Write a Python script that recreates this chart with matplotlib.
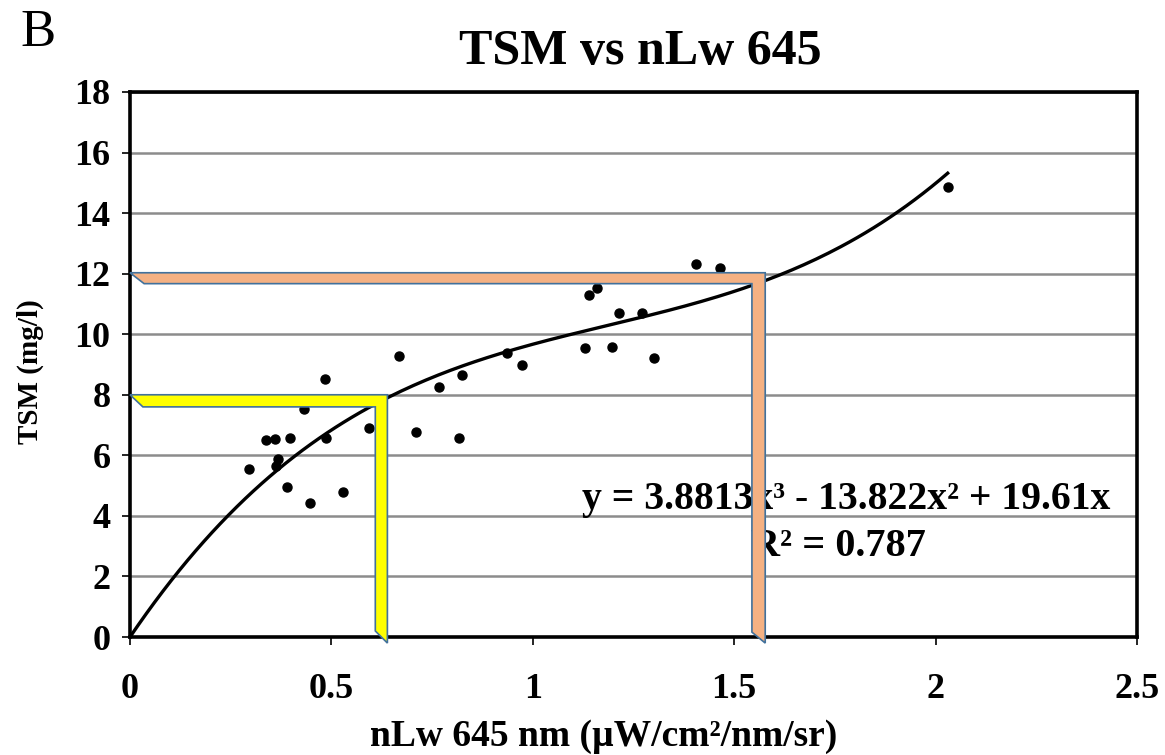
import numpy as np
import matplotlib
matplotlib.use("Agg")
import matplotlib.pyplot as plt
from matplotlib.patches import Polygon

# data
nlw = [0.295, 0.337, 0.359, 0.396, 0.367, 0.363, 0.389, 0.448, 0.431, 0.484,
       0.487, 0.528, 0.594, 0.668, 0.710, 0.767, 0.817, 0.825, 0.936, 0.973,
       1.130, 1.140, 1.160, 1.196, 1.215, 1.270, 1.300, 1.406, 1.465, 2.030]
tsm = [5.55, 6.50, 6.54, 6.57, 5.88, 5.65, 4.95, 4.42, 7.53, 8.51,
       6.57, 4.79, 6.90, 9.28, 6.78, 8.27, 6.57, 8.65, 9.39, 8.98,
       9.54, 11.29, 11.52, 9.57, 10.71, 10.70, 9.21, 12.32, 12.18, 14.87]

# trendline coefficients (x^3, x^2, x, const) as printed on the chart
coef = [3.8813, -13.822, 19.61, 0.0]
eq_text = "y = 3.8813x³ - 13.822x² + 19.61x"
r2_text = "R² = 0.787"

# reading guides: TSM level and corresponding nLw
guide_tsm = [8.0, 12.03]
guide_nlw = [0.639, 1.577]
guide_colors = ["#FFFF00", "#F4B183"]

plt.rcParams['font.family'] = ['Liberation Serif', 'DejaVu Serif']

fig = plt.figure(figsize=(11.65, 7.55), dpi=100)
ax = fig.add_axes([130 / 1165, 1 - 637 / 755, 1007 / 1165, 545 / 755])

ax.set_xlim(0, 2.5)
ax.set_ylim(0, 18)
ax.set_xticks(np.arange(0, 2.51, 0.5))
ax.set_xticklabels(["0", "0.5", "1", "1.5", "2", "2.5"])
ax.set_yticks(np.arange(0, 19, 2))
ax.yaxis.grid(True, color="#8c8c8c", linewidth=1.8)
ax.set_axisbelow(True)
for s in ax.spines.values():
    s.set_linewidth(2.6)
ax.tick_params(axis="both", direction="out", length=6, width=1.2, labelsize=26)
ax.tick_params(axis="x", pad=20)
ax.tick_params(axis="y", pad=8)
for lab in ax.get_xticklabels() + ax.get_yticklabels():
    lab.set_fontweight("bold")

# scatter + trendline
ax.plot(nlw, tsm, "o", color="black", markersize=6.5, zorder=3)
xs = np.linspace(0, max(nlw), 200)
ax.plot(xs, np.polyval(coef, xs), color="black", linewidth=2.4, zorder=3)

ax.text(1.121, 4.55, eq_text, fontsize=28.5, fontweight="bold", va="center", ha="left", zorder=2)
ax.text(1.542, 3.0, r2_text, fontsize=29, fontweight="bold", va="center", ha="left", zorder=2)

# bent guides (horizontal from y-axis, then down to x-axis)
thick = [(0.030, 0.40), (0.033, 0.36)]
for yv, xv, c, (tx, ty) in zip(guide_tsm, guide_nlw, guide_colors, thick):
    tip = -0.2
    pts = [(0, yv), (xv, yv), (xv, tip), (xv - tx, tip + ty),
           (xv - tx, yv - ty), (tx + 0.002, yv - ty)]
    ax.add_patch(Polygon(pts, closed=True, facecolor=c, edgecolor="#41719C",
                         linewidth=1.2, zorder=4, clip_on=False))

fig.text(604 / 1165, 1 - 736 / 755, "nLw 645 nm (µW/cm²/nm/sr)", fontsize=27,
         fontweight="bold", ha="center", va="center")
fig.text(30 / 1165, 1 - 372 / 755, "TSM (mg/l)", fontsize=21, fontweight="bold",
         rotation=90, ha="center", va="center")
fig.text(640 / 1165, 1 - 52 / 755, "TSM vs nLw 645", fontsize=36, fontweight="bold",
         ha="center", va="center")
fig.text(20 / 1165, 1 - 33 / 755, "B", fontsize=38, va="center", ha="left")

fig.savefig("out.png", dpi=100)
